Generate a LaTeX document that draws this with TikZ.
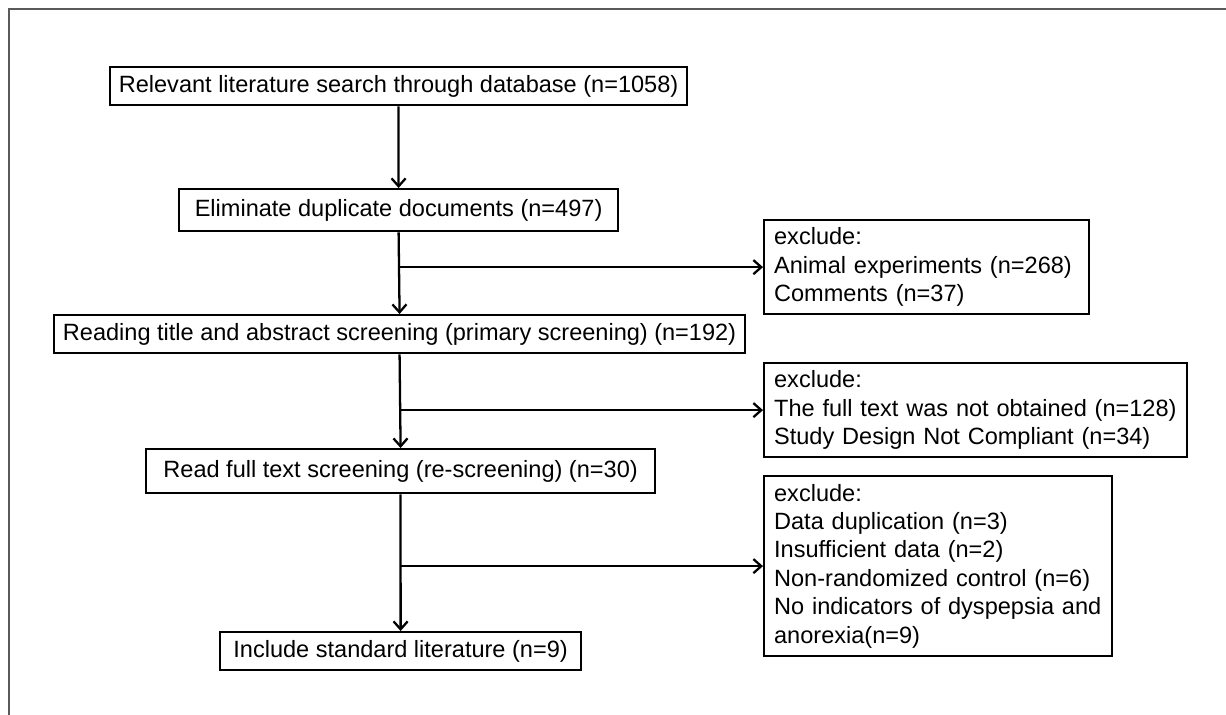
\documentclass[tikz,border=0pt]{standalone}
\usepackage{fontspec}
\setmainfont{Liberation Sans}
\usetikzlibrary{arrows.meta}
\definecolor{framegray}{HTML}{5A5A5A}

\begin{document}
\begin{tikzpicture}[
  x=0.02cm, y=-0.02cm,
  >={Straight Barb[length=4.5pt, width=8pt]},
  flowbox/.style={
    draw=black, line width=1.3pt, fill=white, anchor=north west,
    inner sep=0pt, font=\fontsize{13.4}{16.2}\selectfont
  },
  mainbox/.style 2 args={
    flowbox, minimum width=#1, minimum height=#2, align=center
  },
  exclbox/.style 2 args={
    flowbox, inner xsep=0.2cm, text width=#1, minimum height=#2, align=left
  },
  arr/.style={->, line width=1.3pt, black},
]

% ============================================================
% Canvas and outer frame
% ============================================================
\useasboundingbox (0,0) rectangle (1226,715);
\draw[framegray, line width=0.8pt] (1226,9) -- (9,9) -- (9,715);

% ============================================================
% Main flow: top to bottom
% ============================================================
\node[mainbox={11.54cm}{0.76cm}] (search) at (109,66)
  {Relevant literature search through database (n=1058)};

\node[mainbox={8.78cm}{0.84cm}] (dedup) at (178,188)
  {Eliminate duplicate documents (n=497)};

\node[mainbox={13.82cm}{0.76cm}] (titleabs) at (53,314)
  {Reading title and abstract screening (primary screening) (n=192)};

\node[mainbox={10.18cm}{0.88cm}] (fulltext) at (145,448)
  {Read full text screening (re-screening) (n=30)};

\node[mainbox={7.22cm}{0.76cm}] (included) at (219,631)
  {Include standard literature (n=9)};

% ============================================================
% Exclusion boxes (right column)
% ============================================================
\node[exclbox={6.1cm}{1.88cm}] (excl1) at (763,219)
  {exclude:\\Animal experiments (n=268)\\Comments (n=37)};

\node[exclbox={8.06cm}{1.88cm}] (excl2) at (763,362)
  {exclude:\\The full text was not obtained (n=128)\\Study Design Not Compliant (n=34)};

\node[exclbox={6.56cm}{3.6cm}] (excl3) at (763,475)
  {exclude:\\Data duplication (n=3)\\Insufficient data (n=2)\\
   Non-randomized control (n=6)\\No indicators of dyspepsia and\\anorexia(n=9)};

% ============================================================
% Vertical arrows
% ============================================================
\draw[arr] (search.south) -- (dedup.north);
\draw[arr] (dedup.south) -- (titleabs.north);
\draw[arr] (titleabs.south) -- (fulltext.north);
\draw[arr] (fulltext.south) -- (included.north);

% ============================================================
% Branches to the exclusion boxes
% ============================================================
\draw[arr] (dedup.south |- excl1.west) -- (excl1.west);
\draw[arr] (titleabs.south |- excl2.west) -- (excl2.west);
\draw[arr] (fulltext.south |- excl3.west) -- (excl3.west);

\end{tikzpicture}
\end{document}
